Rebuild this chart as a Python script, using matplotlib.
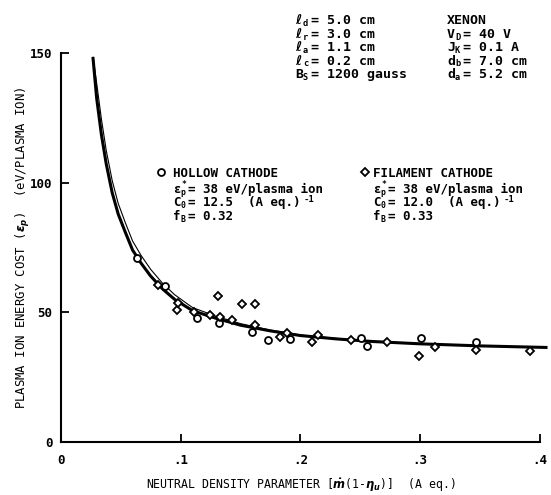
import matplotlib.pyplot as plt

W, H = 551, 495

# fitted curves
curve_x = [0.027, 0.030, 0.034, 0.038, 0.043, 0.048, 0.054, 0.060, 0.067, 0.075, 0.085,
           0.095, 0.11, 0.13, 0.15, 0.175, 0.20, 0.23, 0.26, 0.30, 0.35, 0.405]
hollow_curve = [148.0, 132.7, 118.5, 107.3, 96.1, 87.9, 80.8, 74.0, 69.0, 64.0, 59.0,
                55.0, 50.6, 47.6, 45.0, 42.8, 41.0, 39.7, 38.7, 37.8, 37.0, 36.4]
filament_curve = [148.5, 138.5, 124.5, 112.5, 100.8, 92.0, 84.5, 77.5, 72.0, 66.6, 61.2,
                  56.8, 51.8, 48.4, 45.6, 43.1, 41.2, 39.9, 38.8, 37.9, 37.0, 36.4]

# measured points
hollow_x = [0.064, 0.087, 0.114, 0.132, 0.160, 0.173, 0.191, 0.251, 0.256, 0.301, 0.347]
hollow_y = [70.9, 60.1, 47.6, 45.8, 42.5, 39.3, 39.7, 40.0, 37.1, 40.0, 38.6]

filament_x = [0.081, 0.097, 0.098, 0.111, 0.125, 0.131, 0.133, 0.143, 0.151, 0.162, 0.162,
              0.183, 0.189, 0.210, 0.215, 0.242, 0.272, 0.299, 0.3125, 0.347, 0.392]
filament_y = [60.5, 50.8, 53.6, 50.1, 48.9, 56.3, 48.3, 47.0, 53.2, 53.2, 45.1,
              40.5, 42.0, 38.6, 41.2, 39.3, 38.6, 33.1, 36.7, 35.4, 35.0]

x_ticks = [0, 0.1, 0.2, 0.3, 0.4]
x_tick_labels = ["0", ".1", ".2", ".3", ".4"]
y_ticks = [0, 50, 100, 150]
y_tick_labels = ["0", "50", "100", "150"]

# (symbol, subscript, superscript, rest) for each annotation line
params_left = [("ℓ", "d", "", "= 5.0 cm"), ("ℓ", "r", "", "= 3.0 cm"),
               ("ℓ", "a", "", "= 1.1 cm"), ("ℓ", "c", "", "= 0.2 cm"),
               ("B", "S", "", "= 1200 gauss")]
params_right = [("XENON", "", "", ""), ("V", "D", "", "= 40 V"), ("J", "K", "", "= 0.1 A"),
                ("d", "b", "", "= 7.0 cm"), ("d", "a", "", "= 5.2 cm")]
hollow_text = [("HOLLOW CATHODE", "", "", ""), ("ε", "p", "*", "= 38 eV/plasma ion"),
               ("C", "0", "", "= 12.5  (A eq.)"), ("f", "B", "", "= 0.32")]
filament_text = [("FILAMENT CATHODE", "", "", ""), ("ε", "p", "*", "= 38 eV/plasma ion"),
                 ("C", "0", "", "= 12.0  (A eq.)"), ("f", "B", "", "= 0.33")]
inverse_unit = "-1"

plt.rcParams["font.family"] = ["DejaVu Sans Mono", "DejaVu Sans"]
plt.rcParams["font.weight"] = "bold"
plt.rcParams["mathtext.fontset"] = "dejavusans"

fig = plt.figure(figsize=(W / 100, H / 100), dpi=100)
ax = fig.add_axes([60.7 / W, 1 - 441.7 / H, (540 - 60.7) / W, (441.7 - 53.3) / H])

ax.plot(curve_x, hollow_curve, color="black", linewidth=2.2, clip_on=False)
ax.plot(curve_x, filament_curve, color="black", linewidth=0.8, clip_on=False)
ax.plot(hollow_x, hollow_y, "o", ms=5, mfc="white", mec="black", mew=1.3, clip_on=False)
ax.plot(filament_x, filament_y, "D", ms=4, mfc="white", mec="black", mew=1.3, clip_on=False)

ax.set_xlim(0, 0.4)
ax.set_ylim(0, 150)
ax.set_xticks(x_ticks)
ax.set_xticklabels(x_tick_labels)
ax.set_yticks(y_ticks)
ax.set_yticklabels(y_tick_labels)
ax.tick_params(direction="in", length=6, width=1.3, labelsize=9)
ax.tick_params(axis="x", pad=9)
ax.tick_params(axis="y", pad=6)
for side in ["top", "right"]:
    ax.spines[side].set_visible(False)
for side in ["left", "bottom"]:
    ax.spines[side].set_linewidth(1.5)

ax.set_xlabel(r"NEUTRAL DENSITY PARAMETER [$\dot{m}$(1-$\eta_u$)]  (A eq.)",
              fontsize=8.3, labelpad=7)
ax.set_ylabel(r"PLASMA ION ENERGY COST ($\varepsilon_p$)  (eV/PLASMA ION)",
              fontsize=8.8, labelpad=-1.5)


def put(px, py, s, size):
    fig.text(px / W, 1 - py / H, s, fontsize=size, ha="left", va="baseline")


def block(px, baselines, rows, size=9.5):
    cw = size * 100 / 72 * 0.602  # monospace advance in pixels
    small = size * 0.65
    for base, (sym, sub, sup, rest) in zip(baselines, rows):
        put(px, base, sym, size)
        x = px + len(sym) * cw
        if sub:
            put(x, base + 2, sub, small)
        if sup:
            put(x + 0.5, base - 6.5, sup, small)
        if rest:
            put(x + cw, base, rest, size)


# operating conditions
top_rows = [24, 37.5, 51, 64.5, 78]
block(295, top_rows, params_left)
block(447, top_rows, params_right)

# legend blocks
legend_rows = [177, 193, 206, 219.5]
block(173, legend_rows, hollow_text, size=9)
block(373, legend_rows, filament_text, size=9)
cw9 = 9 * 100 / 72 * 0.602
for px, rows in [(173, hollow_text), (373, filament_text)]:
    sym, sub, sup, rest = rows[2]
    put(px + (len(sym) + 1 + len(rest)) * cw9 + 3, legend_rows[2] - 4.5, inverse_unit, 6.5)

ax.plot([161 / W], [1 - 172 / H], "o", ms=5, mfc="white", mec="black", mew=1.3,
        transform=fig.transFigure, clip_on=False)
ax.plot([365 / W], [1 - 172 / H], "D", ms=4, mfc="white", mec="black", mew=1.3,
        transform=fig.transFigure, clip_on=False)

fig.savefig("out.png", dpi=100)
